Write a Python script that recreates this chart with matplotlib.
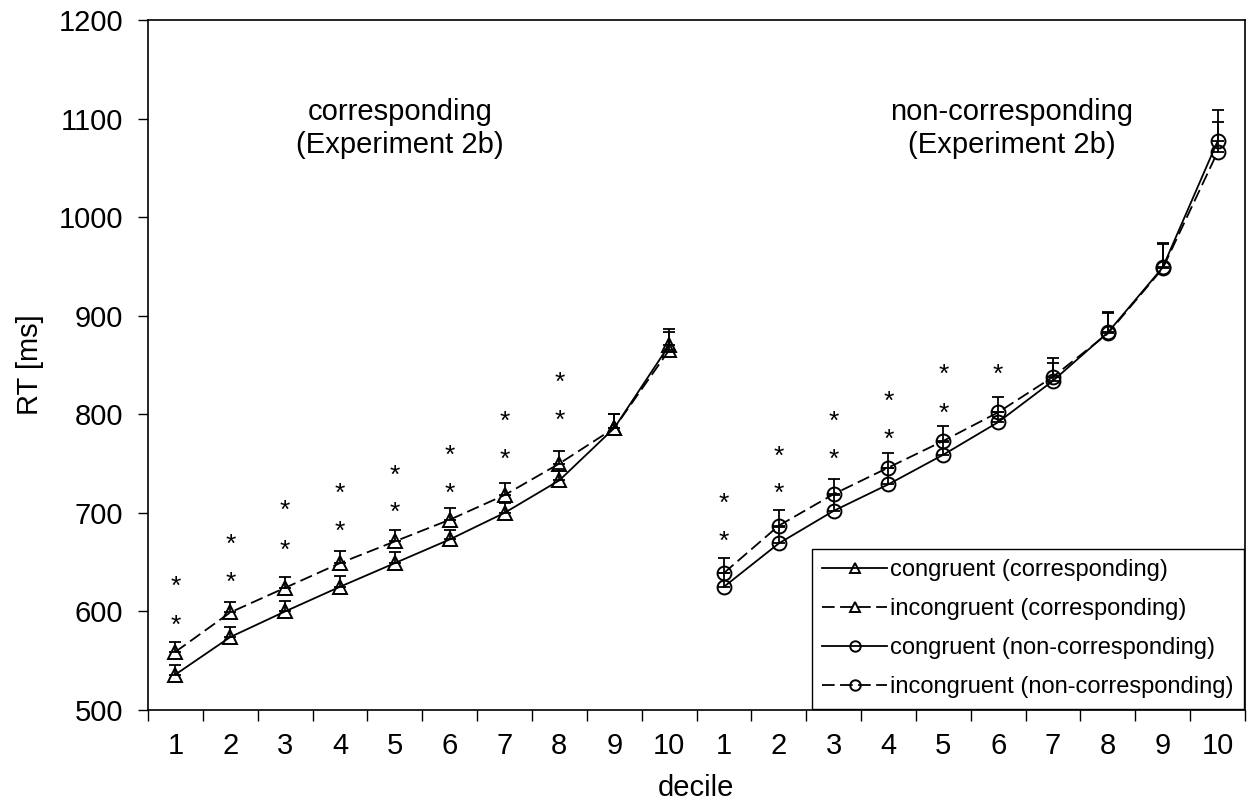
import numpy as np
import matplotlib
matplotlib.use('Agg')
import matplotlib.pyplot as plt

plt.rcParams['font.family'] = ['Liberation Sans', 'DejaVu Sans']

deciles = [str(i) for i in range(1, 11)]

# corresponding (Experiment 2b)
corr_cong = [536, 574, 600, 625, 649, 673, 700, 733, 786, 870]
corr_incong = [559, 599, 624, 649, 671, 693, 718, 750, 786, 865]
corr_cong_err = [10, 10, 11, 11, 11, 10, 10, 11, 14, 17]
corr_incong_err = [10, 11, 11, 12, 12, 12, 12, 13, 14, 18]

# non-corresponding (Experiment 2b)
noncorr_cong = [625, 669, 702, 729, 759, 792, 834, 883, 949, 1077]
noncorr_incong = [639, 687, 719, 746, 773, 802, 838, 882, 948, 1066]
noncorr_cong_err = [14, 17, 16, 16, 13, 10, 18, 21, 25, 32]
noncorr_incong_err = [15, 16, 15, 15, 15, 16, 19, 21, 25, 31]

# significance stars: decile number and RT level
corr_star_dec = [1, 1, 2, 2, 3, 3, 4, 4, 5, 5, 6, 6, 7, 7, 8, 8]
corr_star_rt = [590, 629, 633, 672, 666, 706, 685, 723, 704, 742, 724, 762, 758, 797, 798, 836]
noncorr_star_dec = [1, 1, 2, 2, 3, 3, 4, 4, 5, 5, 6]
noncorr_star_rt = [675, 713, 724, 761, 758, 797, 778, 817, 805, 844, 844]

fig = plt.figure(figsize=(12.48, 8.05), dpi=100)
ax = fig.add_axes([148/1248, 1 - 710/805, 1097/1248, 690/805])

x_left = np.arange(1, 11)
x_right = np.arange(11, 21)

lw = 1.3
dash = (7, 3)
mk = dict(markersize=10, markerfacecolor='none', markeredgecolor='black', markeredgewidth=1.4)

ax.plot(x_left, corr_cong, color='black', lw=lw, marker='^', label='congruent (corresponding)', **mk)
ax.plot(x_left, corr_incong, color='black', lw=lw, marker='^', dashes=dash,
        label='incongruent (corresponding)', **mk)
ax.plot(x_right, noncorr_cong, color='black', lw=lw, marker='o', label='congruent (non-corresponding)', **mk)
ax.plot(x_right, noncorr_incong, color='black', lw=lw, marker='o', dashes=dash,
        label='incongruent (non-corresponding)', **mk)

for xs, ys, es in [(x_left, corr_cong, corr_cong_err), (x_left, corr_incong, corr_incong_err),
                   (x_right, noncorr_cong, noncorr_cong_err), (x_right, noncorr_incong, noncorr_incong_err)]:
    ax.errorbar(xs, ys, yerr=[np.zeros(len(es)), es], fmt='none', ecolor='black',
                elinewidth=1.3, capsize=4, capthick=1.3)

for d, r in zip(corr_star_dec, corr_star_rt):
    ax.annotate('*', (d, r), xytext=(0, -3), textcoords='offset points',
                ha='center', va='center', fontsize=19)
for d, r in zip(noncorr_star_dec, noncorr_star_rt):
    ax.annotate('*', (d + 10, r), xytext=(0, -3), textcoords='offset points',
                ha='center', va='center', fontsize=19)

ax.text(5.1, 1090, 'corresponding\n(Experiment 2b)', ha='center', va='center',
        fontsize=21, linespacing=1.2)
ax.text(16.25, 1090, 'non-corresponding\n(Experiment 2b)', ha='center', va='center',
        fontsize=21, linespacing=1.2)

ax.set_xlim(0.5, 20.5)
ax.set_ylim(500, 1200)
ax.set_yticks(range(500, 1201, 100))
ax.set_xticks(np.arange(1, 21))
ax.set_xticklabels(deciles + deciles)
ax.set_xticks(np.arange(0.5, 21, 1), minor=True)
ax.tick_params(axis='x', which='major', length=0, pad=16, labelsize=21)
ax.tick_params(axis='x', which='minor', length=8, width=1, direction='out')
ax.tick_params(axis='y', length=7, width=1, direction='out', pad=11, labelsize=21)
for s in ax.spines.values():
    s.set_linewidth(1.2)

leg = ax.legend(loc='lower right', bbox_to_anchor=(1.0, 0.0), fontsize=17, frameon=True,
                fancybox=False, edgecolor='black', framealpha=1, handlelength=2.75,
                handletextpad=0.1, labelspacing=0.72, borderaxespad=0.05, markerscale=0.75,
                borderpad=0.45)
leg.get_frame().set_linewidth(1.0)

fig.text(30/1248, 1 - 365/805, 'RT [ms]', rotation=90, ha='center', va='center', fontsize=21)
fig.text(696/1248, 1 - 788/805, 'decile', ha='center', va='center', fontsize=21)

fig.savefig('out.png', dpi=100)
